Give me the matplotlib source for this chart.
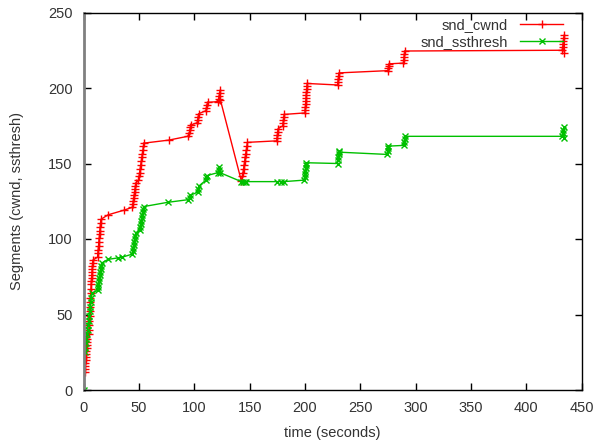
import matplotlib
matplotlib.use('Agg')
import matplotlib.pyplot as plt

plt.rcParams['font.family'] = ['Liberation Sans', 'DejaVu Sans']

# snd_cwnd samples (time in s, segments)
cwnd_t = [1.0, 1.2, 1.4, 1.6, 1.8, 2.0, 2.2, 2.4, 2.6, 2.8, 3.0, 3.2,
          4.5, 4.7, 4.9, 5.1, 5.3, 5.5, 5.7, 5.9, 6.1, 6.3, 6.5, 6.7, 6.9, 7.1, 7.3, 7.5, 7.7, 7.9, 8.1, 8.3,
          12.5, 12.8, 13.1, 13.4, 13.7, 14.0, 14.3, 14.6, 14.9, 15.2, 15.5,
          22.0, 36.0,
          44.0, 44.4, 44.8, 45.2, 45.6, 46.0, 46.4, 46.8, 47.2,
          49.5, 50.0, 50.5, 51.0, 51.5, 52.0, 52.5, 53.0, 53.5, 54.0, 54.5,
          77.0, 94.0,
          95.5, 96.0, 96.5, 97.0,
          102.5, 103.0, 103.5, 104.0,
          110.5, 111.0, 111.5, 112.0,
          121.5, 122.0, 122.5, 123.0, 123.3, 123.6,
          142.5, 143.5, 144.0, 144.5, 145.0, 145.5, 146.0, 146.5, 147.0, 147.5, 148.0,
          174.5, 174.8, 175.1, 175.4, 175.7,
          180.0, 180.3, 180.6, 180.9, 181.2,
          200.0, 200.2, 200.4, 200.6, 200.8, 201.0, 201.2, 201.4, 201.6, 201.8, 202.0,
          229.5, 229.8, 230.1, 230.4, 230.7,
          275.0, 275.3, 275.6, 275.9,
          289.0, 289.3, 289.6, 289.9, 290.2,
          432.5, 433.0, 433.3, 433.6, 434.0, 434.3, 434.6]
cwnd = [12, 14, 16, 18, 20, 22, 24, 26, 28, 30, 32, 34,
        37, 40, 43, 46, 49, 52, 55, 58, 61, 64, 67, 70, 72, 74, 76, 78, 80, 82, 84, 86,
        88, 90.5, 93, 95.5, 98, 100.5, 103, 105.5, 108, 110.5, 113,
        116, 119,
        121, 123, 125, 127, 129, 131, 133, 135, 137,
        139, 141.5, 144, 146.5, 149, 151.5, 154, 156.5, 159, 161.5, 163.5,
        165.5, 168,
        170, 172, 174, 175.5,
        177, 179, 181, 183,
        185, 187, 189, 190.5,
        191, 193, 195, 197, 198.5, 192,
        138.5, 141.5, 144, 146.5, 149, 151.5, 154, 156.5, 159, 161.5, 164,
        165, 167, 169, 171, 173,
        175, 177, 179, 181, 182.5,
        183.5, 185.5, 187.5, 189.5, 191.5, 193.5, 195.5, 197.5, 199.5, 201.5, 203,
        202, 204, 206, 208, 210,
        211.5, 213, 214.5, 216,
        216.5, 218.5, 220.5, 222.5, 224.5,
        225, 227, 229, 231, 233, 235, 223.5]

# snd_ssthresh samples
ssth_t = [0.0,
          1.0, 1.5, 2.0, 2.5, 3.0, 3.5, 4.0, 4.5, 5.0, 5.5, 6.0, 6.5, 7.0, 7.5,
          12.5, 12.9, 13.3, 13.7, 14.1, 14.5, 14.9, 15.3, 15.7, 16.1,
          22.0, 31.0, 35.0,
          44.0, 44.4, 44.8, 45.2, 45.6, 46.0, 46.4, 47.0,
          50.5, 51.0, 51.5, 52.0, 52.5, 53.0, 53.5, 54.0, 54.5,
          76.0, 94.0,
          96.0, 96.5,
          103.0, 103.5, 104.0,
          110.5, 111.0, 111.5,
          121.5, 122.0, 122.5, 123.0,
          142.5, 144.0, 145.5, 147.0, 175.0, 178.0, 181.0,
          199.5, 199.8, 200.1, 200.4, 200.7, 201.0, 201.3,
          229.5, 229.8, 230.1, 230.4, 230.7, 231.0,
          274.5, 274.8, 275.1, 275.4,
          289.5, 289.8, 290.1, 290.4,
          432.5, 433.0, 433.5, 434.0, 434.5]
ssthresh = [0,
            25, 28, 31, 34, 37, 40, 43, 46, 49, 52, 55, 58, 61, 64,
            66, 68, 70, 72, 74, 76, 78, 80, 82, 84,
            86.5, 87.5, 88,
            90, 92, 94, 96, 98, 100, 102, 104,
            106, 108, 110, 112, 114, 116, 118, 120, 121.5,
            124.3, 126,
            127, 129,
            131, 133, 135,
            139, 141, 142,
            144, 146, 148, 144,
            138, 138, 138, 138, 138, 138, 138,
            139, 141, 143, 145, 147, 149, 150.5,
            150, 152, 154, 156, 158, 157.5,
            156, 158, 160, 161.5,
            162, 164, 166, 168,
            168, 170, 172, 174, 167]

xticks = [0, 50, 100, 150, 200, 250, 300, 350, 400, 450]
yticks = [0, 50, 100, 150, 200, 250]

fig = plt.figure(figsize=(5.96, 4.43), dpi=100)
ax = fig.add_axes([83.7 / 596, 53 / 443, 497.8 / 596, 377.5 / 443])

ax.plot(cwnd_t, cwnd, color='#ff0000', lw=1, marker='+', ms=6, mew=1,
        label='snd_cwnd')
ax.plot(ssth_t, ssthresh, color='#00c000', lw=1, marker='x', ms=5, mew=1,
        label='snd_ssthresh')

ax.set_xlim(0, 450)
ax.set_ylim(0, 250)
ax.set_xticks(xticks)
ax.set_yticks(yticks)
ax.tick_params(direction='in', length=5, width=1, top=True, right=True,
               labelsize=10.5, labelcolor='#333333', pad=8)

for side in ['top', 'right', 'bottom']:
    ax.spines[side].set_color('black')
    ax.spines[side].set_linewidth(1)
ax.spines['left'].set_color('#808080')
ax.spines['left'].set_linewidth(2)

ax.set_xlabel('time (seconds)', fontsize=10.5, color='#333333')
ax.set_ylabel('Segments (cwnd, ssthresh)', fontsize=10.5, color='#333333')
ax.xaxis.set_label_coords(0.5, -0.095)
ax.yaxis.set_label_coords(-0.12, 0.5)

leg = ax.legend(loc='upper right', bbox_to_anchor=(0.963, 0.985),
                frameon=False, markerfirst=False, fontsize=10.5,
                handlelength=2.95, handletextpad=0.85, labelspacing=0.2,
                borderpad=0, borderaxespad=0, labelcolor='#333333')

fig.savefig('out.png', dpi=100)
